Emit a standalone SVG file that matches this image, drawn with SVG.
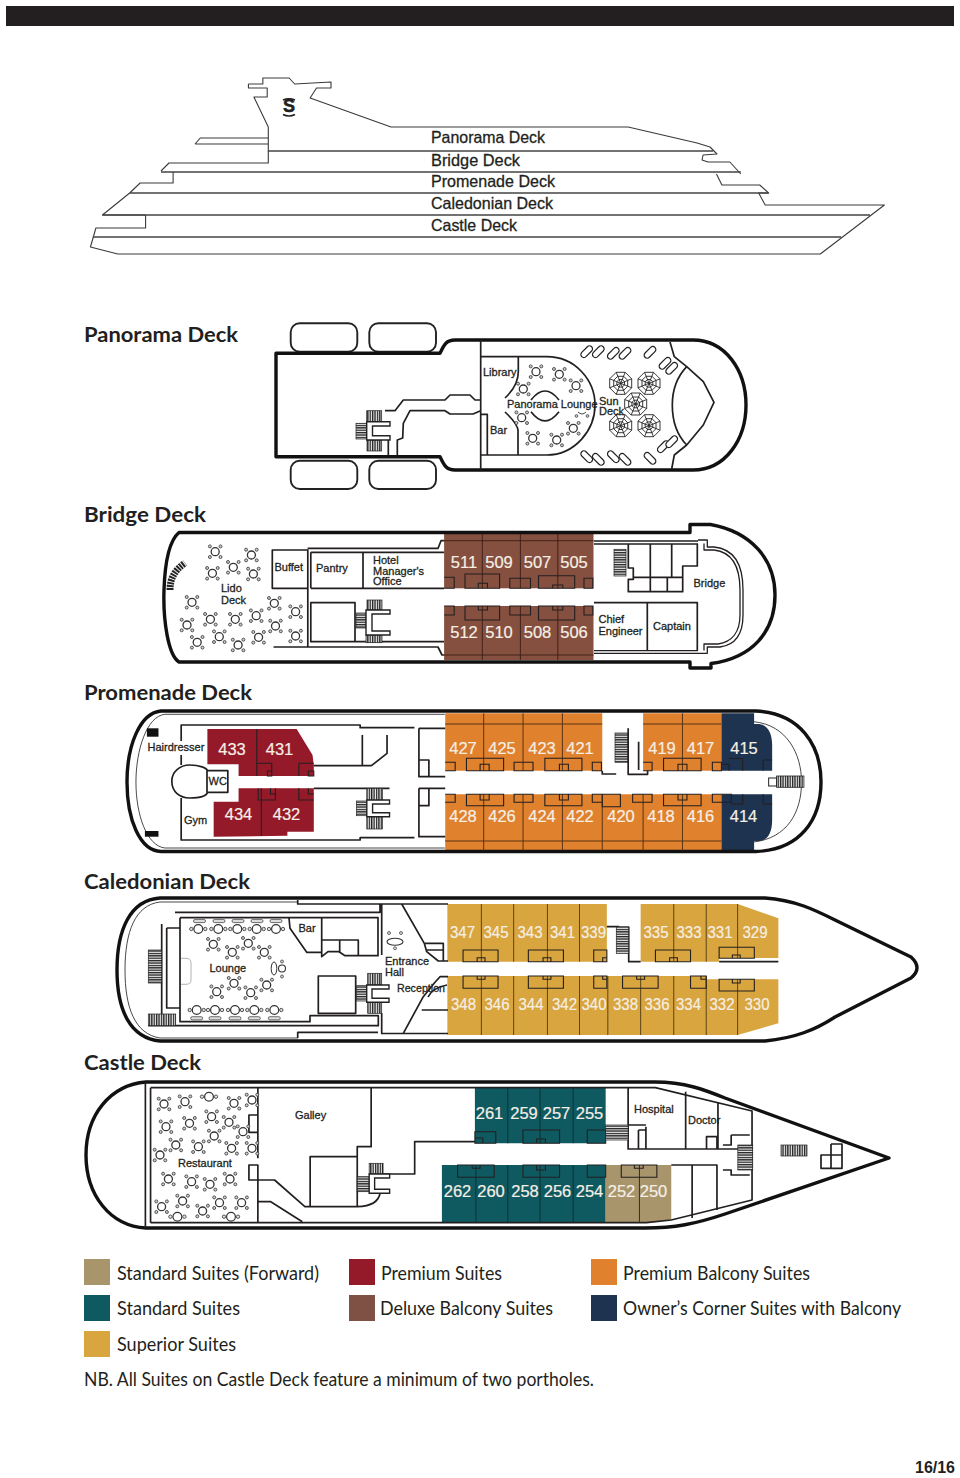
<svg xmlns="http://www.w3.org/2000/svg" xmlns:xlink="http://www.w3.org/1999/xlink" width="960" height="1478" viewBox="0 0 960 1478">
<style>
text{font-family:"Liberation Sans",Arial,sans-serif;fill:#231f20}
.l{fill:none;stroke:#231f20;stroke-width:1.3;stroke-linejoin:round}
.m{fill:none;stroke:#231f20;stroke-width:1.7;stroke-linejoin:round}
.thin{fill:none;stroke:#333;stroke-width:.9}
.hull{fill:none;stroke:#111;stroke-width:3.4;stroke-linejoin:round}
.boat{fill:#fff;stroke:#222;stroke-width:1.9}
.side{fill:none;stroke:#3a3a3a;stroke-width:1.1;stroke-linejoin:round}
.deckline{fill:none;stroke:#444;stroke-width:1.7}
.sl{font-size:16.5px;stroke:#231f20;stroke-width:.3}
.h{font-family:Lato,"Open Sans",sans-serif;font-weight:700;font-size:21.5px}
.lab{font-size:11px;stroke:#231f20;stroke-width:.3}
.n{font-size:16.5px;fill:#f6efe6;stroke:#f6efe6;stroke-width:.2;text-anchor:middle}
.lg{font-family:Lato,"Open Sans",sans-serif;font-size:19px}
.br{fill:#85503f}.tl{fill:#0f5a60}.go{fill:#d9a53f}.or{fill:#df812d}.nv{fill:#1e3350}.rd{fill:#941a2a}.tn{fill:#a8956c}
.d{fill:none;stroke:#3a1d14;stroke-width:.9}
.dk{fill:none;stroke:#231f20;stroke-width:1.1}
</style>
<defs>
<pattern id="hv" patternUnits="userSpaceOnUse" width="2.4" height="2.4"><rect width="2.4" height="2.4" fill="#eee"/><rect width="1.3" height="2.4" fill="#222"/></pattern>
<pattern id="hh" patternUnits="userSpaceOnUse" width="2.4" height="2.4"><rect width="2.4" height="2.4" fill="#eee"/><rect width="2.4" height="1.3" fill="#222"/></pattern>
<g id="t" fill="#fff" stroke="#333"><circle r="4" stroke-width="1.3"/><g stroke-width=".8" fill="#ccc"><circle cx="-5.3" cy="-5.3" r="1.5"/><circle cx="5.3" cy="-5.3" r="1.5"/><circle cx="-5.3" cy="5.3" r="1.5"/><circle cx="5.3" cy="5.3" r="1.5"/></g></g>
<g id="o" fill="#fff" stroke="#333"><circle r="4.4" stroke-width="1.2"/><g stroke-width=".8" fill="#ddd"><circle cx="-7" r="1.7"/><circle cx="7" r="1.7"/></g></g>
<g id="sofa" fill="#ddd" stroke="#333" stroke-width=".7"><rect x="-6" y="-1.6" width="12" height="3.2" rx="1.6"/></g>
<g id="u" fill="#fff" stroke="#222" stroke-width=".9"><path d="M-4.5-11H4.5L11-4.5V4.5L4.5 11H-4.5L-11 4.5V-4.5Z"/><path d="M-3-7H3L7-3V3L3 7H-3L-7 3V-3Z"/><path d="M-1.6-3.8H1.6L3.8-1.6V1.6L1.6 3.8H-1.6L-3.8 1.6V-1.6Z"/><path d="M-11-4.5L11 4.5M-11 4.5L11-4.5M-4.5-11L4.5 11M4.5-11L-4.5 11"/></g>
<rect id="sb" x="-7" y="-3" width="14" height="6" rx="3" fill="#fff" stroke="#222" stroke-width="1.2"/>
</defs>
<rect width="960" height="1478" fill="#fff"/>
<rect x="6" y="6" width="948" height="20" fill="#231f20"/>

<g id="elevation">
<g transform="translate(80 0) scale(.9937 1) translate(-80 0)">
<path class="side" d="M249.500,84H264V78H290.500L296,84L332.600,82V88H318L311.600,98L393,127H631.600L701,143L714,147L721,154L707,155L706,160L712,162H734L745,174M720.500,174L726,185H764L773,193L763,193L769.500,205H889.500L825,254H118L90.500,247L96,228H146V215H102.600L130,193M249.500,84V88H268.400V97H255L269.500,127V163H169.500L161.500,171M173.700,172V183H140.500L130,193M195.800,144L201,138H269M195.800,144H269"/>
<path class="deckline" d="M269,151H717M161.500,172H745M130,193H773M102.600,215H875M93,237H846"/>
</g>
<text x="289" y="112" text-anchor="middle" font-weight="700" stroke="#231f20" stroke-width=".5" style="font-size:18px">S</text>
<path d="M283,100Q289,97.500 295,100M283,114.500Q289,117.500 295,114.500" fill="none" stroke="#231f20" stroke-width="1.600"/>
<text class="sl" x="431" y="143" textLength="114" lengthAdjust="spacingAndGlyphs">Panorama Deck</text>
<text class="sl" x="431" y="166" textLength="89" lengthAdjust="spacingAndGlyphs">Bridge Deck</text>
<text class="sl" x="431" y="187" textLength="124" lengthAdjust="spacingAndGlyphs">Promenade Deck</text>
<text class="sl" x="431" y="209" textLength="122" lengthAdjust="spacingAndGlyphs">Caledonian Deck</text>
<text class="sl" x="431" y="231" textLength="86" lengthAdjust="spacingAndGlyphs">Castle Deck</text>
</g>

<g id="panorama-deck">
<text class="h" x="84" y="342" textLength="154" lengthAdjust="spacingAndGlyphs">Panorama Deck</text>
<rect class="boat" x="290.700" y="323.300" width="66.600" height="28.400" rx="9"/>
<rect class="boat" x="369.300" y="323.300" width="66.700" height="28.400" rx="9"/>
<rect class="boat" x="290.700" y="460.700" width="66.600" height="28.300" rx="9"/>
<rect class="boat" x="369.300" y="460.700" width="66.700" height="28.300" rx="9"/>
<path class="hull" d="M276,353.300H440C444,345 446,340 455,340H693C725,340 746,370 746,405C746,440 725,470 693,470H455C446,470 444,465 440,456.700H276Z"/>
<path class="m" d="M480.700,340V470M480.700,356.700H546.700C575,356.700 595,380 595,405C595,430 575,455 546.700,455H480.700M518.300,356.700V370Q519,385 505,398M505,412Q519,425 518,432V454.300M487.300,455V414.300H480.700"/>
<path class="m" d="M531,400Q545,382 559,400M531,411.700Q545,430 559,411.700"/>
<path class="m" d="M480.700,400H475L470,395H450L445,400H403.300L395,410.700H385M480.700,410.700L473,414H450L445,410.700H410L403.300,423.300L402.700,438L397.300,440V455M388.300,440V455"/>
<path class="m" d="M670,342L674.300,356.700L686.700,366.700C676,378 672.300,392 672.300,405C672.300,420 677,435 686.700,445L674.300,455L671.700,469M686.700,366.700L703.300,381.700L714,402.300L703.300,425L686.700,445"/>
<rect x="366.700" y="410.700" width="15" height="11" fill="url(#hv)" stroke="#222" stroke-width=".7"/>
<rect x="367" y="440" width="14.700" height="11" fill="url(#hv)" stroke="#222" stroke-width=".7"/>
<rect x="356" y="423.300" width="10.700" height="15.700" fill="url(#hh)" stroke="#222" stroke-width=".7"/>
<path d="M366.700,421.700H390V426H372.500V435.700H390V440H366.700Z" fill="#fff" stroke="#222" stroke-width="1.4"/>
<use href="#t" x="536" y="371.700"/><use href="#t" x="559.300" y="374.300"/><use href="#t" x="576" y="385.700"/><use href="#t" x="523.300" y="389"/><use href="#t" x="521.700" y="417.700"/><use href="#t" x="532.700" y="438.300"/><use href="#t" x="556.700" y="440"/><use href="#t" x="573.300" y="428.300"/>
<path class="thin" d="M578,412Q582,416 586,412"/><circle cx="576.500" cy="416" r="1.400" fill="#ccc" stroke="#333" stroke-width=".7"/><circle cx="587.500" cy="416" r="1.400" fill="#ccc" stroke="#333" stroke-width=".7"/>
<use href="#u" x="620.700" y="383.300"/><use href="#u" x="649" y="383.300"/><use href="#u" x="635.700" y="404"/><use href="#u" x="620.700" y="425.700"/><use href="#u" x="649" y="425.700"/>
<use href="#sb" transform="translate(586.700 351.700) rotate(-45)"/><use href="#sb" transform="translate(598.300 351.700) rotate(-45)"/><use href="#sb" transform="translate(613.300 353.300) rotate(-45)"/><use href="#sb" transform="translate(625 353.300) rotate(-45)"/><use href="#sb" transform="translate(650 352.300) rotate(-45)"/><use href="#sb" transform="translate(665 363.300) rotate(-45)"/><use href="#sb" transform="translate(671.700 368.300) rotate(-45)"/>
<use href="#sb" transform="translate(586.700 456.700) rotate(45)"/><use href="#sb" transform="translate(598.300 459.300) rotate(45)"/><use href="#sb" transform="translate(613.300 456.700) rotate(45)"/><use href="#sb" transform="translate(625 459.300) rotate(45)"/><use href="#sb" transform="translate(650 458.300) rotate(45)"/><use href="#sb" transform="translate(663.300 446.700) rotate(-45)"/><use href="#sb" transform="translate(671.700 441.700) rotate(-45)"/>
<text class="lab" x="483" y="376">Library</text>
<text class="lab" x="507" y="408">Panorama Lounge</text>
<text class="lab" x="599" y="404.500">Sun</text><text class="lab" x="599" y="415">Deck</text>
<text class="lab" x="490" y="434">Bar</text>
</g>

<g id="bridge-deck">
<text class="h" x="84" y="522" textLength="122" lengthAdjust="spacingAndGlyphs">Bridge Deck</text>
<rect class="br" x="444.100" y="534" width="149.400" height="54.300"/>
<rect class="br" x="444.100" y="606" width="149.400" height="54"/>
<path class="hull" d="M179,532.500H690V524.500H710.500C752,532 775,560 775,595C775,632 752,658 711,663.500V668H690V662H179C168,655 163,620 164,590C165,560 170,540 179,532.500Z"/>
<path class="d" d="M482.300,534V588.300M520.400,534V588.300M557.800,534V588.300M482.300,606V660M520.400,606V660M557.800,606V660M444,540.700H593.500M444,655H593.500"/>
<path class="dk" d="M444.100,577.300H454.200V588.300H444.100M465,574H499.600V588.300H465ZM478.300,583.300H487.500V588.300H478.300ZM509.800,578.300H530.500V588.300H509.800ZM538.500,575.700H574.700V588.300H538.500ZM552.700,585H562.800V588.300H552.700ZM584,578.300H592.800V588.300H584ZM444.100,606H454.200V615H444.100M465,606H499.600V620H465ZM478.300,606H487.500V610H478.300ZM509.800,606H530.500V615H509.800ZM538.500,606H574.700V620H538.500ZM552.700,606H562.800V610H552.700ZM584,606H592.800V615H584Z"/>
<path class="m" d="M307.600,548.300H438.100L441,540.700H444M273.500,647H438L442,655H444M272.300,550H307.800V588.300H272.300ZM310.800,552.300H444M310.800,588.300H444M310.800,552.300V588.300M363,552.300V588.300M307.800,550V647M310.800,602.700H355V641.700H310.800ZM355,641.700H444"/>
<rect x="367" y="600" width="15" height="10" fill="url(#hv)" stroke="#222" stroke-width=".7"/>
<rect x="366" y="635" width="16" height="7.700" fill="url(#hv)" stroke="#222" stroke-width=".7"/>
<rect x="356" y="613" width="10" height="15" fill="url(#hh)" stroke="#222" stroke-width=".7"/>
<path d="M366,610H390V614H372V631H390V635H366Z" fill="#fff" stroke="#222" stroke-width="1.4"/>
<rect x="614" y="549.300" width="12" height="26.700" fill="url(#hh)" stroke="#222" stroke-width=".7"/>
<path class="l" d="M594,541H698M594,544H698M594,650.700H698M594,653.300H698M698,540H707.300V547H714C735,549 743,565 743,590V615C743,635 735,645 720,647H707.300V653.300H698M704,543.500V550H714C732,552 740,567 740,590V615C740,632 732,642 718,644H704V650.500"/>
<path class="m" d="M594,602.700H697.300V650M647.300,602.700V650"/>
<path class="m" d="M628.300,544V568H633.300V579.300H628.300V591.700H682.700V566H697.300V544M650.300,544V591.700M671.700,544V577.300M667.300,577.300V591.700M633.300,577.300H682.700"/>
<path d="M170,590C170,578 175,570 185,563" fill="none" stroke="#222" stroke-width="7" stroke-dasharray="2 .9"/>
<use href="#t" x="215.200" y="551.700"/><use href="#t" x="251.400" y="555"/><use href="#t" x="233.300" y="567.300"/><use href="#t" x="212.400" y="573.300"/><use href="#t" x="253.400" y="574"/><use href="#t" x="192" y="602.300"/><use href="#t" x="274.300" y="603.300"/><use href="#t" x="295.600" y="611.700"/><use href="#t" x="256.200" y="615.700"/><use href="#t" x="187" y="625"/><use href="#t" x="210.400" y="619.300"/><use href="#t" x="235.300" y="619.300"/><use href="#t" x="275.500" y="626"/><use href="#t" x="295.600" y="636"/><use href="#t" x="258.600" y="637.300"/><use href="#t" x="219.300" y="636.700"/><use href="#t" x="197.200" y="642.300"/><use href="#t" x="238.100" y="645"/>
<text class="lab" x="221" y="592">Lido</text><text class="lab" x="221" y="604">Deck</text>
<text class="lab" x="274.500" y="571">Buffet</text><text class="lab" x="316" y="572">Pantry</text>
<text class="lab" x="373" y="564">Hotel</text><text class="lab" x="373" y="574.500">Manager's</text><text class="lab" x="373" y="585">Office</text>
<text class="lab" x="598.500" y="623">Chief</text><text class="lab" x="598.500" y="634.500">Engineer</text><text class="lab" x="653" y="630">Captain</text><text class="lab" x="693.500" y="587">Bridge</text>
<g>
<text class="n" x="464" y="568">511</text><text class="n" x="499" y="568">509</text><text class="n" x="537.500" y="568">507</text><text class="n" x="574" y="568">505</text>
<text class="n" x="464" y="637.500">512</text><text class="n" x="499" y="637.500">510</text><text class="n" x="537.500" y="637.500">508</text><text class="n" x="574" y="637.500">506</text>
</g>
</g>

<g id="promenade-deck">
<text class="h" x="84" y="700" textLength="168" lengthAdjust="spacingAndGlyphs">Promenade Deck</text>
<g transform="translate(120 0) scale(.9964 1) translate(-120 0)">
<path class="or" d="M446.400,713.300H604V770.700H446.400ZM645,713.300H723.600V770.700H645ZM446.400,794.300H723.600V850.700H446.400Z"/>
<path class="nv" d="M723.600,713.300H756.400V724H760C770,724 774.500,733 774.500,745V770.700H723.600ZM723.600,794.300H774.500V820C774.500,833 770,841 760,841H756.400V850.700H723.600Z"/>
<path class="rd" d="M207.700,729H297.300L313.200,755L314.500,765V776H239V764.300H207.700ZM239,788.300H314.500V831.700H288V835.700L214,836.700V801.700H239Z"/>
</g>
<path class="hull" d="M161,711H756C800,713 821,745 821,782C821,820 800,850 756,851.500H161C140,851 127,820 127,782C127,745 140,713 161,711Z"/>
<g transform="translate(120 0) scale(.9964 1) translate(-120 0)">
<path class="thin" stroke-width="1.300" d="M446,714.300H165C147,716 136,750 136,782C136,815 147,846 165,848H446M756,721.700C790,725 804,755 804,782C804,812 790,838 756,842"/>
<rect x="147" y="728.300" width="11.600" height="8.400" fill="#111"/><rect x="145" y="831" width="13.600" height="5.700" fill="#111"/>
<path class="m" d="M181.400,741V725H361V727.700H415.500M181.400,755V765M181.400,798V840H361V837.700H415.500"/>
<path class="m" d="M172,781C172,772 180,765 190,765C200,765 207,768 208,771M172,781C172,792 180,798 190,798C200,798 207,796 208,792M207.300,770.700H228.200V792.300H207.300Z"/>
<path class="dk" d="M257.300,729V776M261.800,788.300V836M257.700,763.300H272.300V776M299.500,763.300H314.500M299.500,763.300V776M268,771H272.300V776H268ZM309,771H314.500V776H309ZM258.700,788.300V800H276V788.300M299.500,788.300V800H314.500M271,788.300V794H276M309,788.300V794H314.500"/>
<path class="m" d="M314.500,765.700H372.300L388,753.300V735M363.200,735V765.700M314.500,788.300H390.500M420,728.300H446.400M420,728.300V776.700H446.400M420,760H430V776.700M420,788.300H446.400M420,788.300V836.700H446.400M420,805.700H430V788.300"/>
<rect x="367.700" y="788.300" width="15.900" height="13.400" fill="url(#hv)" stroke="#222" stroke-width=".7"/>
<rect x="367.700" y="816.700" width="15.900" height="12.300" fill="url(#hv)" stroke="#222" stroke-width=".7"/>
<rect x="357.300" y="801" width="10.400" height="14.700" fill="url(#hh)" stroke="#222" stroke-width=".7"/>
<path d="M367.700,800H390.500V804H373.500V812.700H390.500V816.700H367.700Z" fill="#fff" stroke="#222" stroke-width="1.4"/>
<path class="d" style="stroke:#4a2a12" d="M485,713.300V770.700M524.500,713.300V770.700M564,713.300V770.700M684.500,713.300V770.700M485,794.300V850.700M524.500,794.300V850.700M564,794.300V850.700M604,794.300V850.700M645,794.300V850.700M684.500,794.300V850.700M446.400,724H604M645,724H723.600M446.400,841H723.600"/>
<path class="dk" d="M446.400,762.300H456.400V770.700H446.400M467.700,758.300H505V770.700H467.700ZM481.400,764.300H490.500V770.700H481.400ZM515.500,762.300H534.500V770.700H515.500ZM546.400,758.300H583.600V770.700H546.400ZM561,764.300H570V770.700H561ZM594,762.300H603.200V770.700H594ZM645,762.300H654V770.700H645M665.500,758.300H703.200V770.700H665.500ZM680,764.300H689V770.700H680ZM714.500,762.300H723.600V770.700H714.500ZM723.600,764.300H731.400V770.700M446.400,794.300H456.400V802.300H446.400M467.700,794.300H505V805.700H467.700ZM481.400,794.300H490.500V800H481.400ZM515.500,794.300H534.500V802.300H515.500ZM546.400,794.300H583.600V805.700H546.400ZM561,794.300H570V800H561ZM594,794.300H604V802.300H594ZM604,794.300H622.200V806.700H604ZM634.500,794.300H654V802.300H634.500ZM665.500,794.300H703.200V805.700H665.500ZM680,794.300H689V800H680ZM714.500,794.300H733.600V802.300H714.500ZM731,758.500H745V770.700M765.500,760H774.500M765.500,760V770.700M765.500,794.300V804H774.500M745,794.300V804H733.600"/>
<rect x="616.800" y="733" width="13.200" height="29.300" fill="url(#hh)" stroke="#222" stroke-width=".7"/>
<path class="m" d="M604,770.700V774H618M630,728.300V774.300H649.500V770.700M640.500,741.700V770"/>
<rect x="771" y="778" width="8" height="8" fill="#fff" stroke="#222" stroke-width="1"/>
<rect x="779" y="776" width="27.400" height="11.300" fill="url(#hv)" stroke="#222" stroke-width=".8"/>
</g>
<text class="lab" x="147.500" y="751">Hairdresser</text><text class="lab" x="208.500" y="785">WC</text><text class="lab" x="184" y="824">Gym</text>
<g>
<text class="n" x="232" y="755">433</text><text class="n" x="279.500" y="755">431</text><text class="n" x="238.500" y="820">434</text><text class="n" x="286.500" y="820">432</text>
<text class="n" x="463" y="754">427</text><text class="n" x="502" y="754">425</text><text class="n" x="542" y="754">423</text><text class="n" x="580" y="754">421</text><text class="n" x="662" y="754">419</text><text class="n" x="700.500" y="754">417</text><text class="n" x="744" y="754">415</text>
<text class="n" x="463" y="822">428</text><text class="n" x="502" y="822">426</text><text class="n" x="542" y="822">424</text><text class="n" x="580" y="822">422</text><text class="n" x="621" y="822">420</text><text class="n" x="661" y="822">418</text><text class="n" x="700.500" y="822">416</text><text class="n" x="743.500" y="822">414</text>
</g>
</g>

<g id="caledonian-deck">
<text class="h" x="84" y="889" textLength="166" lengthAdjust="spacingAndGlyphs">Caledonian Deck</text>
<g transform="translate(110 0) scale(.9937 1) translate(-110 0)">
<path class="go" d="M449.500,904H610V961.700H449.500ZM644,904H741.600L782.600,918.300V958H723V961.700H644ZM449.500,976H710V979.300H782.600V1023.300L741.600,1035H449.500Z"/>
</g>
<path class="hull" d="M160,898H765C795,900 815,910 835,920L911,957Q923,968 911,978L835,1017C815,1030 795,1038 765,1041H160C130,1038 117,1010 117,970C117,930 130,900 160,898Z"/>
<path class="thin" stroke-width="1.200" d="M160,902C135,905 125,932 125,970C125,1008 135,1034 160,1038M160,902H298M160,1038H298"/>
<g transform="translate(110 0) scale(.9937 1) translate(-110 0)">
<path class="d" style="stroke:#4d3a10" d="M483.700,904V961.700M516.200,904V961.700M550.200,904V961.700M582.500,904V961.700M677.300,904V961.700M710,904V961.700M741.600,904V958M483.700,976V1035M516.200,976V1035M550.200,976V1035M582.500,976V1035M611,976V1035M644,976V1035M677.300,976V1035M710,976V1035M741.600,979.300V1035"/>
<path class="dk" d="M465.300,950H500.500V961.700H465.300ZM479.500,957.700H487.400V961.700H479.500ZM531,950H566.300V961.700H531ZM545.800,957.700H553.700V961.700H545.800ZM596.800,950H610V961.700H596.800ZM605.800,957.700H610V961.700H605.800ZM658.900,950H694.200V961.700H658.900ZM673.200,957.700H681V961.700H673.200ZM723,947.300H758.400V958.300H723ZM736.300,955H744.200V958.300H736.300ZM465.300,976H500.500V988.300H465.300ZM479.500,976H487.400V979.300H479.500ZM531,976H566.300V988.300H531ZM545.800,976H553.700V979.300H545.800ZM596.800,976H610V988.300H596.800ZM605.800,976H610V979.300H605.800ZM625.800,976H661.600V988.300H625.800ZM640,976H648V979.300H640ZM694.200,976H710V988.300H694.200ZM704.700,976H710V979.300H704.700ZM723,979.300H758.400V991H723ZM736.300,979.300H744.200V983H736.300Z"/>
<path class="m" d="M610,926.700H622V953M632,926.700V961.700H644M723,961.700H782.600"/>
<rect x="619.500" y="926.700" width="12.500" height="26.600" fill="url(#hh)" stroke="#222" stroke-width=".7"/>
</g>
<path class="m" d="M297.700,900V904H448M175,912.300H380V904M381.700,904V955M381.700,1013V1033.500H448M297.700,1038V1032.300H378M401.700,904L424.300,943.300L426.700,951.700L438.300,961H448M425,943.300H443.300V961M426.700,950H443.300"/>
<path class="m" d="M448,976.700H440L435,982.300L423.300,996.700L403.300,1033.300M421.700,1010H448M428,997Q432,988 447,985"/>
<path class="m" d="M180,917.700H378V955.700H358.300V940H321.700V952.300H306.700L290,928.300L289,918M321.700,917.700V940M321.700,952.300V956.700L328,951.700H339L345,955.700H358.300M339.700,940V951.700M180,917.700V1021.700H310V1015.700H378.300V1025.700H148.300M166.700,928H180M166.700,928V1008H180M161.700,924V1015M318.300,976H355.700V1013.300H318.300Z"/>
<rect x="148.300" y="950" width="13.400" height="33" fill="url(#hh)" stroke="#222" stroke-width=".7"/>
<rect x="148.300" y="1014" width="27.400" height="11.700" fill="url(#hv)" stroke="#222" stroke-width=".7"/>
<path d="M181,958.300H186Q191,958.300 191,963V980Q191,984.300 186,984.300H181" fill="none" stroke="#aaa" stroke-width=".9"/>
<rect x="367.700" y="973.300" width="14" height="11.700" fill="url(#hv)" stroke="#222" stroke-width=".7"/>
<rect x="367.700" y="1002.300" width="14" height="11" fill="url(#hv)" stroke="#222" stroke-width=".7"/>
<rect x="356.700" y="985.700" width="10" height="15.300" fill="url(#hh)" stroke="#222" stroke-width=".7"/>
<path d="M366.700,985H389V989H372V998.300H389V1002.300H366.700Z" fill="#fff" stroke="#222" stroke-width="1.400"/>
<use href="#t" x="213.300" y="944.300"/><use href="#t" x="248.300" y="943.300"/><use href="#t" x="232.300" y="952.300"/><use href="#t" x="264.300" y="952.300"/><use href="#t" x="216.700" y="991.700"/><use href="#t" x="234" y="983.300"/><use href="#t" x="250.700" y="992.700"/><use href="#t" x="266.700" y="985"/>
<ellipse cx="274" cy="968.500" rx="2.800" ry="6.500" fill="#fff" stroke="#333" stroke-width="1"/><circle cx="282" cy="968.500" r="3.500" fill="#fff" stroke="#333" stroke-width="1.100"/><circle cx="282" cy="961.500" r="1.500" fill="#ccc" stroke="#333" stroke-width=".7"/><circle cx="282" cy="976.500" r="1.500" fill="#ccc" stroke="#333" stroke-width=".7"/>
<use href="#o" x="198.300" y="929"/><use href="#o" x="218.300" y="929"/><use href="#o" x="237.300" y="929"/><use href="#o" x="256.700" y="929"/><use href="#o" x="276" y="929"/>
<use href="#sofa" x="199.500" y="921"/><use href="#sofa" x="219" y="921"/><use href="#sofa" x="238" y="921"/><use href="#sofa" x="257" y="921"/><use href="#sofa" x="276" y="921"/>
<use href="#o" x="196.700" y="1010"/><use href="#o" x="215" y="1010"/><use href="#o" x="235" y="1010"/><use href="#o" x="254.300" y="1010"/><use href="#o" x="274.300" y="1010"/>
<use href="#sofa" x="196.700" y="1018.300"/><use href="#sofa" x="215" y="1018.300"/><use href="#sofa" x="235" y="1018.300"/><use href="#sofa" x="254.300" y="1018.300"/><use href="#sofa" x="274.300" y="1018.300"/>
<ellipse cx="395" cy="941.700" rx="8" ry="3.500" fill="#fff" stroke="#333" stroke-width="1.100"/><g fill="#ddd" stroke="#333" stroke-width=".7"><circle cx="389" cy="933" r="1.500"/><circle cx="401" cy="933" r="1.500"/><circle cx="395" cy="948.300" r="1.500"/></g>
<text class="lab" x="298.500" y="932">Bar</text><text class="lab" x="209.500" y="972">Lounge</text><text class="lab" x="385" y="964.500">Entrance</text><text class="lab" x="385" y="975.500">Hall</text>
<text class="lab" x="397" y="992" textLength="48" lengthAdjust="spacingAndGlyphs">Reception</text>
<g>
<text class="n" x="462.500" y="937.500" textLength="25" lengthAdjust="spacingAndGlyphs">347</text><text class="n" x="496" y="937.500" textLength="25" lengthAdjust="spacingAndGlyphs">345</text><text class="n" x="530" y="937.500" textLength="25" lengthAdjust="spacingAndGlyphs">343</text><text class="n" x="562.500" y="937.500" textLength="25" lengthAdjust="spacingAndGlyphs">341</text><text class="n" x="593.500" y="937.500" textLength="25" lengthAdjust="spacingAndGlyphs">339</text><text class="n" x="656" y="937.500" textLength="25" lengthAdjust="spacingAndGlyphs">335</text><text class="n" x="689" y="937.500" textLength="25" lengthAdjust="spacingAndGlyphs">333</text><text class="n" x="720" y="937.500" textLength="25" lengthAdjust="spacingAndGlyphs">331</text><text class="n" x="755" y="937.500" textLength="25" lengthAdjust="spacingAndGlyphs">329</text>
<text class="n" x="463.500" y="1009.500" textLength="25" lengthAdjust="spacingAndGlyphs">348</text><text class="n" x="497" y="1009.500" textLength="25" lengthAdjust="spacingAndGlyphs">346</text><text class="n" x="531" y="1009.500" textLength="25" lengthAdjust="spacingAndGlyphs">344</text><text class="n" x="564.500" y="1009.500" textLength="25" lengthAdjust="spacingAndGlyphs">342</text><text class="n" x="594" y="1009.500" textLength="25" lengthAdjust="spacingAndGlyphs">340</text><text class="n" x="625.500" y="1009.500" textLength="25" lengthAdjust="spacingAndGlyphs">338</text><text class="n" x="657" y="1009.500" textLength="25" lengthAdjust="spacingAndGlyphs">336</text><text class="n" x="688.500" y="1009.500" textLength="25" lengthAdjust="spacingAndGlyphs">334</text><text class="n" x="722" y="1009.500" textLength="25" lengthAdjust="spacingAndGlyphs">332</text><text class="n" x="757" y="1009.500" textLength="25" lengthAdjust="spacingAndGlyphs">330</text>
</g>
</g>

<g id="castle-deck">
<text class="h" x="84" y="1070" textLength="117" lengthAdjust="spacingAndGlyphs">Castle Deck</text>
<g transform="translate(80 0) scale(.9937 1) translate(-80 0)">
<path class="tl" d="M477.400,1087.700H609V1143.300H477.400ZM444.200,1165H609V1222.700H444.200Z"/>
<path class="tn" d="M609,1165H675V1220L650,1222.700H609Z"/>
</g>
<path class="hull" d="M146,1082H655C685,1082 705,1090 725,1098L889,1158L725,1214C695,1224 675,1228 645,1228H146C110,1226 86,1195 86,1155C86,1115 110,1085 146,1082Z"/>
<g transform="translate(80 0) scale(.9937 1) translate(-80 0)">
<path class="m" d="M145.800,1082V1228M151,1087.700V1222.700M151,1087.700H659L756.300,1111V1200L675,1220L650,1222.700H151"/>
<path class="d" style="stroke:#0a2f32" d="M510.500,1087.700V1143.300M543,1087.700V1143.300M576.300,1087.700V1143.300M478.400,1165V1222.700M510.500,1165V1222.700M543,1165V1222.700M576.300,1165V1222.700M643,1165V1222.700"/>
<path class="dk" d="M477.400,1131.700H498.400V1143.300H477.400ZM477.400,1138H485.300V1143.300M525.800,1130H562.600V1143.300H525.800ZM539.500,1139H548.400V1143.300H539.500ZM590.500,1130H609V1143.300H590.500ZM460,1165H496.800V1177.300H460ZM474.700,1165H482.600V1168.300H474.700ZM525.800,1165H562.600V1177.300H525.800ZM539.500,1165H548.400V1170H539.500ZM590.500,1165H609V1177.300H590.500ZM624.700,1165H660.500V1177.300H624.700ZM637.900,1165H646.800V1168.300H637.900Z"/>
<path class="m" d="M259,1087.700V1158.300M259,1165V1223M250,1115H259V1132.300H250ZM250,1165H259V1180H250ZM259,1180H275.800L306.300,1206.700H311.600M259,1201.700H272L303.700,1221.700M373,1087.700V1146.700H359V1157M311.600,1156.700H359V1206.700H311.600ZM359,1206.700Q380,1206 382,1193M385,1174H416.800V1141.700H477.400"/>
<rect x="371" y="1163.300" width="14" height="10.700" fill="url(#hv)" stroke="#222" stroke-width=".7"/>
<rect x="359" y="1176.700" width="12" height="15" fill="url(#hh)" stroke="#222" stroke-width=".7"/>
<path d="M371,1174H391.600V1178H376.500V1189.300H391.600V1193.300H371Z" fill="#fff" stroke="#222" stroke-width="1.400"/>
<path class="m" d="M675,1165H721V1210M696,1165V1218M631.600,1087.700V1149H756M689.500,1091.700V1149M722,1103V1149M649.500,1126.700V1149M631.600,1125H649.500M642,1130H649.500M642,1130V1149M710.500,1149V1136.700H721V1149M735.300,1135H754M727,1145H735.300V1135M727,1170H735.300V1175H754"/>
<rect x="609" y="1125" width="22.600" height="15" fill="url(#hh)" stroke="#222" stroke-width=".7"/>
<rect x="742" y="1145" width="15" height="25" fill="url(#hh)" stroke="#222" stroke-width=".7"/>
</g>
<rect x="781" y="1145" width="26" height="11" fill="url(#hv)" stroke="#222" stroke-width=".7"/>
<path class="m" d="M831,1144H842V1168.300H821V1155H842M831,1144V1168.300"/>
<use href="#t" x="164" y="1104"/><use href="#t" x="185" y="1101.700"/><use href="#o" x="209" y="1096.700"/><use href="#t" x="234" y="1103.300"/><use href="#t" x="252" y="1100"/>
<use href="#t" x="166" y="1126.700"/><use href="#t" x="189.500" y="1123.300"/><use href="#t" x="211.600" y="1116.700"/><use href="#t" x="229" y="1122.300"/><use href="#t" x="243" y="1131.700"/>
<use href="#t" x="175.800" y="1145"/><use href="#t" x="198.400" y="1146.700"/><use href="#t" x="214.200" y="1136"/><use href="#t" x="231.600" y="1148.300"/><use href="#t" x="252" y="1148.300"/><use href="#t" x="160" y="1155"/>
<use href="#t" x="168.400" y="1179"/><use href="#t" x="191.600" y="1181.700"/><use href="#t" x="210" y="1184.300"/><use href="#t" x="230" y="1179"/>
<use href="#t" x="161.600" y="1206.700"/><use href="#t" x="182.600" y="1201"/><use href="#t" x="202.600" y="1211"/><use href="#t" x="219.500" y="1202.700"/><use href="#t" x="241.600" y="1202.700"/><use href="#o" x="177.400" y="1216.700"/><use href="#o" x="231" y="1216.700"/>
<text class="lab" x="295" y="1119">Galley</text><text class="lab" x="178" y="1167">Restaurant</text><text class="lab" x="634" y="1113">Hospital</text><text class="lab" x="688" y="1124">Doctor</text>
<g>
<text class="n" x="489.500" y="1118.500">261</text><text class="n" x="524" y="1118.500">259</text><text class="n" x="556.500" y="1118.500">257</text><text class="n" x="589.500" y="1118.500">255</text>
<text class="n" x="457.500" y="1197">262</text><text class="n" x="491" y="1197">260</text><text class="n" x="525" y="1197">258</text><text class="n" x="557.500" y="1197">256</text><text class="n" x="589.500" y="1197">254</text><text class="n" x="621.500" y="1197">252</text><text class="n" x="653.500" y="1197">250</text>
</g>
</g>

<g id="legend">
<rect class="tn" x="84" y="1259" width="26" height="26"/><rect class="tl" x="84" y="1295" width="26" height="26"/><rect class="go" x="84" y="1331" width="26" height="26"/>
<rect class="rd" x="349" y="1259" width="26" height="26"/><rect style="fill:#7f5144" x="349" y="1295" width="26" height="26"/>
<rect class="or" x="591" y="1259" width="26" height="26"/><rect class="nv" x="591" y="1295" width="26" height="26"/>
<text class="lg" x="117" y="1280" textLength="202" lengthAdjust="spacingAndGlyphs">Standard Suites (Forward)</text>
<text class="lg" x="117" y="1315" textLength="123" lengthAdjust="spacingAndGlyphs">Standard Suites</text>
<text class="lg" x="117" y="1351" textLength="119" lengthAdjust="spacingAndGlyphs">Superior Suites</text>
<text class="lg" x="381" y="1280" textLength="121" lengthAdjust="spacingAndGlyphs">Premium Suites</text>
<text class="lg" x="380" y="1315" textLength="173" lengthAdjust="spacingAndGlyphs">Deluxe Balcony Suites</text>
<text class="lg" x="623" y="1280" textLength="187" lengthAdjust="spacingAndGlyphs">Premium Balcony Suites</text>
<text class="lg" x="623" y="1315" textLength="278" lengthAdjust="spacingAndGlyphs">Owner’s Corner Suites with Balcony</text>
<text class="lg" x="84" y="1386" textLength="510" lengthAdjust="spacingAndGlyphs">NB. All Suites on Castle Deck feature a minimum of two portholes.</text>
</g>
<text x="915" y="1473" font-weight="700" style="font-family:'Liberation Sans',sans-serif;font-size:17px" textLength="40" lengthAdjust="spacingAndGlyphs">16/16</text>
</svg>
